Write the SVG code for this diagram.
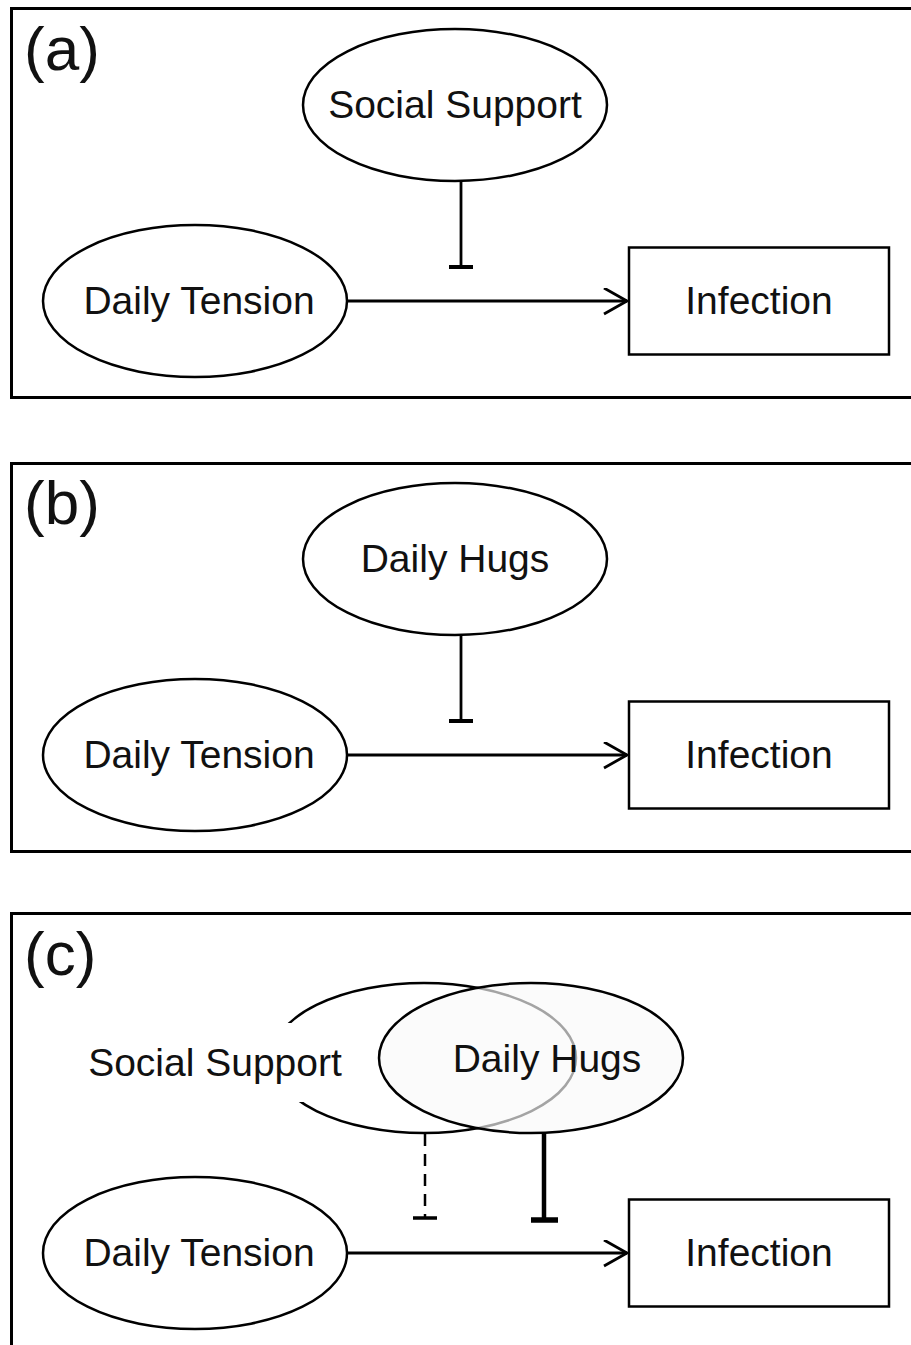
<svg xmlns="http://www.w3.org/2000/svg" width="911" height="1345" viewBox="0 0 911 1345">
<style>
.panel{fill:none;stroke:#000;stroke-width:3}
.node{fill:#fff;stroke:#000;stroke-width:2.5}
.lbl{font-family:"Liberation Sans",Arial,sans-serif;font-size:39px;fill:#111;text-anchor:middle}
.tag{font-family:"Liberation Sans",Arial,sans-serif;font-size:62px;fill:#111}
.edge{fill:none;stroke:#000;stroke-width:2.8}
</style>
<defs>
<marker id="open" markerWidth="30" markerHeight="30" refX="24" refY="13" orient="auto" markerUnits="userSpaceOnUse">
<path d="M1,0 L24,13 L1,26" fill="none" stroke="#000" stroke-width="2.8"/>
</marker>
</defs>
<rect width="911" height="1345" fill="#fff"/>
<!-- panels -->
<rect class="panel" x="11.5" y="8.5" width="930" height="389"/>
<rect class="panel" x="11.5" y="463.5" width="930" height="388"/>
<rect class="panel" x="11.5" y="913.5" width="930" height="460"/>
<text class="tag" x="24" y="70">(a)</text>
<text class="tag" x="24" y="524">(b)</text>
<text class="tag" x="24" y="975">(c)</text>

<g id="connectors">
<line class="edge" x1="347" y1="301" x2="627" y2="301" marker-end="url(#open)"/>
<line class="edge" x1="461" y1="181" x2="461" y2="267"/>
<line x1="449" y1="267" x2="473" y2="267" stroke="#000" stroke-width="4"/>
<line class="edge" x1="347" y1="755" x2="627" y2="755" marker-end="url(#open)"/>
<line class="edge" x1="461" y1="635" x2="461" y2="721"/>
<line x1="449" y1="721" x2="473" y2="721" stroke="#000" stroke-width="4"/>
<line class="edge" x1="347" y1="1253" x2="627" y2="1253" marker-end="url(#open)"/>
<line x1="425" y1="1134" x2="425" y2="1218" stroke="#000" stroke-width="2.5" stroke-dasharray="12,8"/>
<line x1="413" y1="1218" x2="437" y2="1218" stroke="#000" stroke-width="3.5"/>
<line x1="544" y1="1134" x2="544" y2="1220" stroke="#000" stroke-width="4.5"/>
<line x1="531" y1="1220" x2="558" y2="1220" stroke="#000" stroke-width="5.5"/>
</g>

<g id="a-social-support"><ellipse class="node" cx="455" cy="105" rx="152" ry="76"/><text class="lbl" x="455" y="118">Social Support</text></g>
<g id="a-daily-tension"><ellipse class="node" cx="195" cy="301" rx="152" ry="76"/><text class="lbl" x="199" y="314">Daily Tension</text></g>
<g id="a-infection"><rect class="node" x="629" y="247.5" width="260" height="107" stroke-width="3"/><text class="lbl" x="759" y="314">Infection</text></g>

<g id="b-daily-hugs"><ellipse class="node" cx="455" cy="559" rx="152" ry="76"/><text class="lbl" x="455" y="572">Daily Hugs</text></g>
<g id="b-daily-tension"><ellipse class="node" cx="195" cy="755" rx="152" ry="76"/><text class="lbl" x="199" y="768">Daily Tension</text></g>
<g id="b-infection"><rect class="node" x="629" y="701.5" width="260" height="107" stroke-width="3"/><text class="lbl" x="759" y="768">Infection</text></g>

<g id="c-social-support"><ellipse cx="424" cy="1058" rx="152" ry="75" fill="#fff" stroke="#000" stroke-width="2.5"/><rect x="80" y="1023" width="225" height="79" fill="#fff"/><text class="lbl" x="215" y="1076">Social Support</text></g>
<g id="c-daily-hugs"><ellipse cx="531" cy="1058" rx="152" ry="75" fill="#f9f9f9" fill-opacity="0.66" stroke="#000" stroke-width="2.5"/><text class="lbl" x="547" y="1072">Daily Hugs</text></g>
<g id="c-daily-tension"><ellipse class="node" cx="195" cy="1253" rx="152" ry="76"/><text class="lbl" x="199" y="1266">Daily Tension</text></g>
<g id="c-infection"><rect class="node" x="629" y="1199.5" width="260" height="107" stroke-width="3"/><text class="lbl" x="759" y="1266">Infection</text></g>
</svg>
